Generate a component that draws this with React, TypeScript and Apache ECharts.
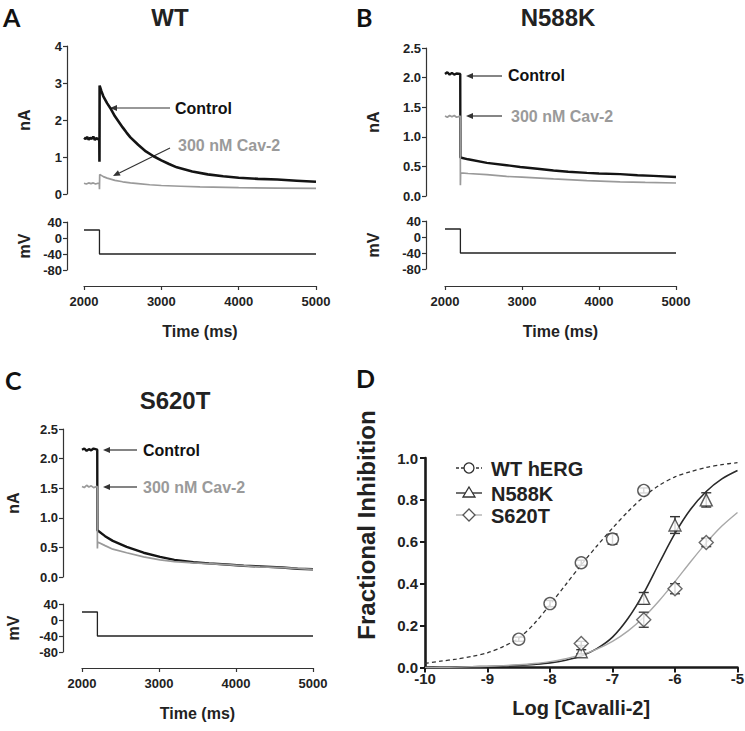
import React, { useEffect, useRef } from "react";
import * as echarts from "echarts";

// ---------- Voltage protocol (shared) ----------
const stepTime = [2000, 2200, 2200, 5000];
const stepMv = [20, 20, -40, -40];

// ---------- Panel A: WT ----------
const wtControl: [number, number][] = [
  [2000, 1.52], [2020, 1.49], [2040, 1.54], [2060, 1.47], [2080, 1.52], [2100, 1.49], [2120, 1.55],
  [2140, 1.46], [2160, 1.51], [2180, 1.48], [2198, 1.5], [2200, 0.87], [2202, 2.93], [2225, 2.78],
  [2250, 2.64], [2300, 2.45], [2350, 2.29], [2400, 2.1], [2500, 1.8], [2550, 1.66], [2600, 1.53],
  [2700, 1.33], [2800, 1.15], [2900, 1.02], [3000, 0.91], [3100, 0.81], [3200, 0.72], [3400, 0.61],
  [3600, 0.53], [3800, 0.48], [4000, 0.44], [4250, 0.41], [4500, 0.39], [4750, 0.36], [5000, 0.33],
];
const wtCav2: [number, number][] = [
  [2000, 0.29], [2030, 0.27], [2060, 0.3], [2090, 0.28], [2120, 0.3], [2150, 0.27], [2180, 0.29],
  [2198, 0.28], [2200, 0.13], [2203, 0.53], [2250, 0.47], [2300, 0.43], [2400, 0.37], [2500, 0.33],
  [2600, 0.3], [2700, 0.28], [2850, 0.25], [3000, 0.23], [3250, 0.21], [3500, 0.19], [4000, 0.17],
  [4500, 0.16], [5000, 0.15],
];

// ---------- Panel B: N588K ----------
const n588Control: [number, number][] = [
  [2000, 2.06], [2030, 2.09], [2060, 2.05], [2090, 2.08], [2120, 2.05], [2150, 2.07], [2198, 2.06],
  [2200, 0.65], [2300, 0.62], [2544, 0.56], [2800, 0.52], [2977, 0.49], [3200, 0.46], [3409, 0.43],
  [3600, 0.41], [3842, 0.39], [4000, 0.38], [4274, 0.37], [4500, 0.35], [4706, 0.34], [5000, 0.32],
];
const n588Cav2: [number, number][] = [
  [2000, 1.35], [2030, 1.33], [2060, 1.36], [2090, 1.34], [2120, 1.36], [2150, 1.33], [2198, 1.35],
  [2200, 0.18], [2203, 0.39], [2300, 0.38], [2544, 0.36], [2800, 0.33], [3000, 0.32], [3409, 0.29],
  [3842, 0.26], [4274, 0.24], [4600, 0.23], [5000, 0.22],
];

// ---------- Panel C: S620T ----------
const s620Control: [number, number][] = [
  [2000, 2.15], [2030, 2.17], [2060, 2.13], [2090, 2.16], [2120, 2.14], [2150, 2.17], [2198, 2.15],
  [2200, 0.79], [2300, 0.69], [2400, 0.61], [2580, 0.51], [2800, 0.41], [3014, 0.34], [3200, 0.29],
  [3446, 0.25], [3650, 0.23], [3878, 0.21], [4100, 0.19], [4310, 0.18], [4600, 0.16], [4800, 0.14],
  [5000, 0.13],
];
const s620Cav2: [number, number][] = [
  [2000, 1.53], [2030, 1.51], [2060, 1.55], [2090, 1.52], [2120, 1.54], [2150, 1.51], [2198, 1.53],
  [2200, 0.48], [2203, 0.59], [2300, 0.53], [2400, 0.47], [2580, 0.41], [2800, 0.34], [3014, 0.29],
  [3200, 0.26], [3446, 0.24], [3878, 0.21], [4310, 0.17], [4600, 0.16], [5000, 0.13],
];

// ---------- Panel D: concentration-response ----------
const curveLog = [
  -10, -9.75, -9.5, -9.25, -9, -8.75, -8.5, -8.25, -8, -7.75, -7.5, -7.25, -7, -6.75, -6.5, -6.25, -6,
  -5.75, -5.5, -5.25, -5,
];
const wtCurve = [
  0.02, 0.03, 0.04, 0.053, 0.07, 0.1, 0.14, 0.21, 0.3, 0.395, 0.49, 0.58, 0.665, 0.745, 0.815, 0.87,
  0.91, 0.935, 0.955, 0.968, 0.978,
];
const n588Curve = [
  0, 0.001, 0.002, 0.003, 0.005, 0.007, 0.01, 0.015, 0.022, 0.035, 0.055, 0.09, 0.145, 0.235, 0.355,
  0.5, 0.64, 0.755, 0.84, 0.9, 0.94,
];
const s620Curve = [
  0, 0.001, 0.002, 0.004, 0.006, 0.009, 0.013, 0.019, 0.028, 0.042, 0.06, 0.088, 0.125, 0.175, 0.24,
  0.32, 0.41, 0.505, 0.595, 0.675, 0.74,
];

const wtLog = [-8.5, -8, -7.5, -7, -6.5];
const wtMean = [0.135, 0.305, 0.5, 0.613, 0.845];
const wtSem = [0.01, 0.015, 0.012, 0.024, 0.012];
const n588Log = [-7.5, -6.5, -6, -5.5];
const n588Mean = [0.075, 0.33, 0.68, 0.8];
const n588Sem = [0.01, 0.028, 0.04, 0.034];
const s620Log = [-7.5, -6.5, -6, -5.5];
const s620Mean = [0.115, 0.228, 0.376, 0.597];
const s620Sem = [0.01, 0.036, 0.024, 0.02];

// ---------- styling ----------
const FONT = "'Liberation Sans', Arial, Helvetica, sans-serif";
const AX = "#333";
const GRAY = "#9a9a9a";
const DARK = "#141414";

const pairs = (xs: number[], ys: number[]) => xs.map((x, i) => [x, ys[i]]);
const triples = (xs: number[], ys: number[], es: number[]) => xs.map((x, i) => [x, ys[i], es[i]]);

const labelStyle = (size: number, margin: number) => ({
  color: "#222",
  fontWeight: "bold" as const,
  fontSize: size,
  fontFamily: FONT,
  margin,
});
const nameStyle = (size: number) => ({
  color: "#222",
  fontWeight: "bold" as const,
  fontSize: size,
  fontFamily: FONT,
});

function timeAxis(gridIndex: number, show: boolean, offset: number) {
  return {
    type: "value",
    gridIndex,
    min: 2000,
    max: 5000,
    interval: 1000,
    show,
    offset,
    axisLine: { show: true, onZero: false, lineStyle: { color: AX, width: 1.2 } },
    axisTick: { show: true, length: 4, lineStyle: { color: AX, width: 1.2 } },
    splitLine: { show: false },
    axisLabel: { ...labelStyle(13, 9), formatter: (v: number) => String(v) },
    name: "Time (ms)",
    nameLocation: "middle",
    nameGap: 37,
    nameTextStyle: nameStyle(16),
  };
}

function ampAxis(gridIndex: number, max: number, interval: number, offset: number, gap: number, fixed: boolean) {
  return {
    type: "value",
    gridIndex,
    min: 0,
    max,
    interval,
    offset,
    axisLine: { show: true, onZero: false, lineStyle: { color: AX, width: 1.2 } },
    axisTick: { show: true, length: 4, lineStyle: { color: AX, width: 1.2 } },
    splitLine: { show: false },
    axisLabel: { ...labelStyle(13, 5), formatter: (v: number) => (fixed ? v.toFixed(1) : String(v)) },
    name: "nA",
    nameLocation: "middle",
    nameRotate: 90,
    nameGap: gap,
    nameTextStyle: nameStyle(16),
  };
}

function mvAxis(gridIndex: number, offset: number, gap: number) {
  return {
    type: "value",
    gridIndex,
    min: -80,
    max: 40,
    interval: 40,
    offset,
    axisLine: { show: true, onZero: false, lineStyle: { color: AX, width: 1.2 } },
    axisTick: { show: true, length: 4, lineStyle: { color: AX, width: 1.2 } },
    splitLine: { show: false },
    axisLabel: labelStyle(13, 5),
    name: "mV",
    nameLocation: "middle",
    nameRotate: 90,
    nameGap: gap,
    nameTextStyle: nameStyle(16),
  };
}

function trace(data: number[][], axis: number, color: string, width: number, z = 2) {
  return {
    type: "line",
    xAxisIndex: axis,
    yAxisIndex: axis,
    data,
    showSymbol: false,
    symbol: "none",
    silent: true,
    z,
    lineStyle: { color, width },
  };
}

function arrow(x1: number, y1: number, x2: number, y2: number, color = "#333") {
  const dx = x2 - x1;
  const dy = y2 - y1;
  const L = Math.hypot(dx, dy);
  const ux = dx / L;
  const uy = dy / L;
  const len = 7;
  const hw = 3;
  const bx = x2 - ux * len;
  const by = y2 - uy * len;
  return [
    { type: "line", shape: { x1, y1, x2: bx, y2: by }, style: { stroke: color, lineWidth: 1.2 } },
    {
      type: "polygon",
      shape: { points: [[x2, y2], [bx - uy * hw, by + ux * hw], [bx + uy * hw, by - ux * hw]] },
      style: { fill: color },
    },
  ];
}

function txt(x: number, y: number, text: string, font: string, fill = "#222", align = "left", rotation = 0) {
  return {
    type: "text",
    x,
    y,
    rotation,
    style: { text, font, fill, align, verticalAlign: "middle" },
  };
}

function errorBars(data: number[][], color: string) {
  return {
    type: "custom",
    xAxisIndex: 6,
    yAxisIndex: 6,
    data,
    z: 3,
    silent: true,
    renderItem: (_p: any, api: any) => {
      const x = api.value(0);
      const y = api.value(1);
      const e = api.value(2);
      const top = api.coord([x, y + e]);
      const bot = api.coord([x, y - e]);
      const w = 5;
      const st = { stroke: color, lineWidth: 1.4 };
      return {
        type: "group",
        children: [
          { type: "line", shape: { x1: top[0], y1: top[1], x2: bot[0], y2: bot[1] }, style: st },
          { type: "line", shape: { x1: top[0] - w, y1: top[1], x2: top[0] + w, y2: top[1] }, style: st },
          { type: "line", shape: { x1: bot[0] - w, y1: bot[1], x2: bot[0] + w, y2: bot[1] }, style: st },
        ],
      };
    },
  };
}

function points(data: number[][], symbol: string, size: number, color: string) {
  return {
    type: "scatter",
    xAxisIndex: 6,
    yAxisIndex: 6,
    data,
    symbol,
    symbolSize: size,
    z: 5,
    silent: true,
    itemStyle: { color: "#fff", borderColor: color, borderWidth: 1.4 },
  };
}

function curve(ys: number[], color: string, width: number, type: any) {
  return {
    type: "line",
    xAxisIndex: 6,
    yAxisIndex: 6,
    data: pairs(curveLog, ys),
    smooth: 0.3,
    showSymbol: false,
    symbol: "none",
    silent: true,
    z: 2,
    lineStyle: { color, width, type },
  };
}

const LETTER = "bold 25px Lato, 'Open Sans', sans-serif";
const TITLE = `bold 24px ${FONT}`;
const ANNOT = `bold 16px ${FONT}`;
const LEG = `bold 20px ${FONT}`;

const legendGraphics = [
  { type: "line", shape: { x1: 456, y1: 468, x2: 482, y2: 468 }, style: { stroke: "#333", lineWidth: 1.3, lineDash: [3, 2] } },
  { type: "circle", shape: { cx: 469, cy: 468, r: 5 }, style: { fill: "#fff", stroke: "#333", lineWidth: 1.3 } },
  txt(491, 469, "WT hERG", LEG),
  { type: "line", shape: { x1: 456, y1: 493, x2: 482, y2: 493 }, style: { stroke: "#333", lineWidth: 1.4 } },
  { type: "polygon", shape: { points: [[469, 487], [475, 497], [463, 497]] }, style: { fill: "#fff", stroke: "#333", lineWidth: 1.3 } },
  txt(491, 494, "N588K", LEG),
  { type: "line", shape: { x1: 456, y1: 515, x2: 482, y2: 515 }, style: { stroke: "#aaa", lineWidth: 1.3 } },
  { type: "polygon", shape: { points: [[469, 509], [475, 515], [469, 521], [463, 515]] }, style: { fill: "#fff", stroke: "#555", lineWidth: 1.3 } },
  txt(491, 516, "S620T", LEG),
];

const option: any = {
  animation: false,
  backgroundColor: "#fff",
  textStyle: { fontFamily: FONT },
  grid: [
    { left: 84, top: 46, width: 232, height: 148, outerBoundsMode: "none" },
    { left: 84, top: 222, width: 232, height: 48, outerBoundsMode: "none" },
    { left: 445, top: 48, width: 231, height: 148, outerBoundsMode: "none" },
    { left: 445, top: 221, width: 231, height: 48, outerBoundsMode: "none" },
    { left: 82, top: 429, width: 231, height: 148, outerBoundsMode: "none" },
    { left: 82, top: 604, width: 231, height: 48, outerBoundsMode: "none" },
    { left: 425, top: 458, width: 312.5, height: 209.5, outerBoundsMode: "none" },
  ],
  xAxis: [
    timeAxis(0, false, 0),
    timeAxis(1, true, 16),
    timeAxis(2, false, 0),
    timeAxis(3, true, 17),
    timeAxis(4, false, 0),
    timeAxis(5, true, 16),
    {
      type: "value",
      gridIndex: 6,
      min: -10,
      max: -5,
      interval: 1,
      axisLine: { show: true, onZero: false, lineStyle: { color: "#1a1a1a", width: 2.6 } },
      axisTick: { show: true, length: 5, lineStyle: { color: "#1a1a1a", width: 2 } },
      splitLine: { show: false },
      axisLabel: labelStyle(15, 3),
      name: "Log [Cavalli-2]",
      nameLocation: "middle",
      nameGap: 30,
      nameTextStyle: nameStyle(20),
    },
  ],
  yAxis: [
    ampAxis(0, 4, 1, 17, 35, false),
    mvAxis(1, 17, 35),
    ampAxis(2, 2.5, 0.5, 19, 45, true),
    mvAxis(3, 19, 45),
    ampAxis(4, 2.5, 0.5, 19, 42, true),
    mvAxis(5, 19, 42),
    {
      type: "value",
      gridIndex: 6,
      min: 0,
      max: 1,
      interval: 0.2,
      axisLine: { show: true, onZero: false, lineStyle: { color: "#1a1a1a", width: 2.6 } },
      axisTick: { show: true, length: 5, lineStyle: { color: "#1a1a1a", width: 2 } },
      splitLine: { show: false },
      axisLabel: { ...labelStyle(15, 7), formatter: (v: number) => v.toFixed(1) },
    },
  ],
  series: [
    trace(wtControl, 0, DARK, 2.6),
    trace(wtCav2, 0, GRAY, 1.7, 3),
    trace(pairs(stepTime, stepMv), 1, "#222", 1.3),
    trace(n588Control, 2, DARK, 2.4),
    trace(n588Cav2, 2, GRAY, 1.7, 3),
    trace(pairs(stepTime, stepMv), 3, "#222", 1.3),
    trace(s620Control, 4, DARK, 2.4),
    trace(s620Cav2, 4, GRAY, 1.7, 3),
    trace(pairs(stepTime, stepMv), 5, "#222", 1.3),
    curve(wtCurve, "#333", 1.3, [4, 3]),
    curve(n588Curve, "#2a2a2a", 1.6, "solid"),
    curve(s620Curve, "#a8a8a8", 1.4, "solid"),
    errorBars(triples(wtLog, wtMean, wtSem), "#333"),
    errorBars(triples(n588Log, n588Mean, n588Sem), "#333"),
    errorBars(triples(s620Log, s620Mean, s620Sem), "#444"),
    points(pairs(wtLog, wtMean), "circle", 12, "#333"),
    points(pairs(n588Log, n588Mean), "triangle", 12, "#333"),
    points(pairs(s620Log, s620Mean), "diamond", 14, "#444"),
  ],
  graphic: [
    txt(3, 17, "A", LETTER, "#111"),
    txt(356, 17, "B", LETTER, "#111"),
    txt(5, 380, "C", LETTER, "#111"),
    txt(356, 378, "D", LETTER, "#111"),
    txt(170, 17, "WT", TITLE, "#222", "center"),
    txt(558, 17, "N588K", TITLE, "#222", "center"),
    txt(175, 400, "S620T", TITLE, "#222", "center"),
    txt(366, 525, "Fractional Inhibition", `bold 24px ${FONT}`, "#222", "center", Math.PI / 2),
    // Panel A annotations
    txt(175, 108, "Control", ANNOT, "#111"),
    ...arrow(170, 108, 110, 108),
    txt(178, 145, "300 nM Cav-2", ANNOT, GRAY),
    ...arrow(170, 148, 113, 176),
    // Panel B annotations
    txt(508, 75, "Control", ANNOT, "#111"),
    ...arrow(502, 76, 466, 76),
    txt(511, 116, "300 nM Cav-2", ANNOT, GRAY),
    ...arrow(502, 116, 466, 116),
    // Panel C annotations
    txt(143, 450, "Control", ANNOT, "#111"),
    ...arrow(137, 450, 103, 450),
    txt(143, 487, "300 nM Cav-2", ANNOT, GRAY),
    ...arrow(137, 487, 103, 487),
    // Panel D legend
    ...legendGraphics,
  ],
};

export default function App() {
  const ref = useRef<HTMLDivElement>(null);
  useEffect(() => {
    const chart = echarts.init(ref.current as HTMLDivElement, null, { renderer: "svg" });
    chart.setOption(option);
    return () => chart.dispose();
  }, []);
  return (
    <div
      ref={ref}
      style={{ position: "fixed", left: 0, top: 0, width: 745, height: 731, background: "#fff" }}
    />
  );
}
